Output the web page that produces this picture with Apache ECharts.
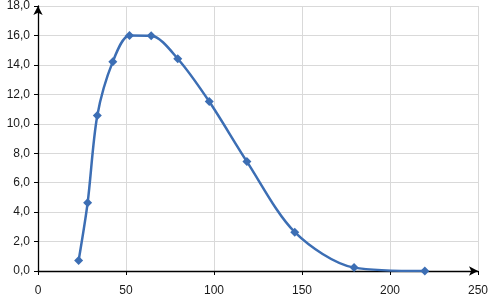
<!DOCTYPE html>
<html><head><meta charset="utf-8">
<script src="https://cdn.jsdelivr.net/npm/echarts@6/dist/echarts.min.js"></script>
<style>html,body{margin:0;padding:0;background:#fff}#c{width:491px;height:299px}</style>
</head><body><div id="c"></div>
<script>
const xValues = [23.1, 28.2, 33.7, 42.5, 52.0, 64.3, 79.4, 97.3, 118.7, 145.9, 179.6, 219.8];
const yValues = [0.72, 4.63, 10.56, 14.22, 16.0, 15.98, 14.42, 11.51, 7.43, 2.64, 0.23, 0.0];
const points = xValues.map((x, i) => [x, yValues[i]]);
const chart = echarts.init(document.getElementById('c'));
const font = '"Liberation Sans", Arial, sans-serif';
chart.setOption({
  animation: false,
  grid: {left: 38, right: 11, top: 5, bottom: 28, containLabel: false},
  xAxis: {
    type: 'value', min: 0, max: 250, interval: 50,
    axisLine: {show: true, lineStyle: {color: '#000', width: 1.3}, symbol: ['none', 'arrow'], symbolSize: [7, 9]},
    axisTick: {show: true, length: 4, lineStyle: {color: '#000'}},
    splitLine: {show: true, lineStyle: {color: '#d9d9d9'}},
    axisLabel: {color: '#1a1a1a', fontSize: 12, fontFamily: font, margin: 14}
  },
  yAxis: {
    type: 'value', min: 0, max: 18, interval: 2,
    axisLine: {show: true, onZero: false, lineStyle: {color: '#000', width: 1.3}, symbol: ['none', 'arrow'], symbolSize: [7, 9]},
    axisTick: {show: true, length: 4, lineStyle: {color: '#000'}},
    splitLine: {show: true, lineStyle: {color: '#d9d9d9'}},
    axisLabel: {color: '#1a1a1a', fontSize: 12, fontFamily: font, margin: 8,
      formatter: v => v.toFixed(1).replace('.', ',')}
  },
  series: [{
    type: 'line', data: points, smooth: 0.3,
    symbol: 'diamond', symbolSize: 9, showSymbol: true,
    lineStyle: {color: '#3C6EB4', width: 2.5},
    itemStyle: {color: '#3C6EB4'}
  }]
});
</script></body></html>
